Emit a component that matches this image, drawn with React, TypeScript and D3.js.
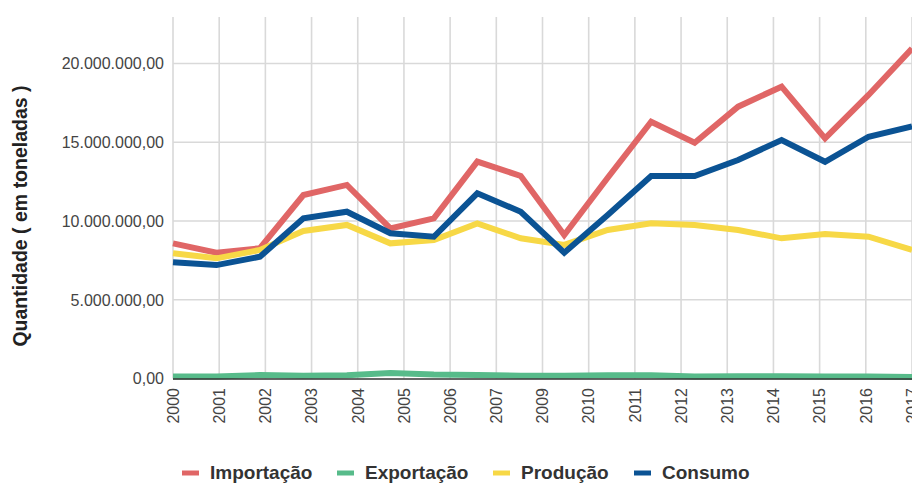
import React from "react";
import * as d3 from "d3";

const years = ["2000","2001","2002","2003","2004","2005","2006","2007","2008","2009","2010","2011","2012","2013","2014","2015","2016","2017"];
const axisLabels = ["2000","2001","2002","2003","2004","2005","2006","2007","2009","2010","2011","2012","2013","2014","2015","2016","2017"];

const importacao = [8.58, 7.99, 8.27, 11.65, 12.29, 9.53, 10.17, 13.77, 12.86, 9.11, 12.75, 16.3, 14.97, 17.26, 18.53, 15.25, 18.0, 20.95];
const exportacao = [0.12, 0.12, 0.22, 0.18, 0.2, 0.35, 0.25, 0.22, 0.18, 0.18, 0.2, 0.2, 0.12, 0.15, 0.15, 0.12, 0.12, 0.1];
const producao = [7.95, 7.63, 8.16, 9.37, 9.75, 8.58, 8.79, 9.85, 8.9, 8.48, 9.43, 9.85, 9.75, 9.43, 8.9, 9.17, 9.0, 8.16];
const consumo = [7.38, 7.2, 7.73, 10.17, 10.59, 9.22, 9.0, 11.76, 10.59, 7.99, 10.38, 12.86, 12.86, 13.87, 15.14, 13.76, 15.35, 16.0];

const yTicks = [0, 5e6, 10e6, 15e6, 20e6];

const series = [
  { name: "Importação", values: importacao, color: "#e06666" },
  { name: "Exportação", values: exportacao, color: "#57bb8a" },
  { name: "Produção", values: producao, color: "#f7d846" },
  { name: "Consumo", values: consumo, color: "#0b5394" },
];

const FONT = "Arial, 'Liberation Sans', sans-serif";

export default function App() {
  const W = 912, H = 483;
  const left = 173, right = 912, top = 17;
  const x = d3.scalePoint<string>().domain(years).range([left, right]);
  const xl = d3.scalePoint<string>().domain(axisLabels).range([left, right]);
  const y = d3.scaleLinear().domain([0, 20e6]).range([378.5, 63.5]);
  const loc = d3.formatLocale({ decimal: ",", thousands: ".", grouping: [3], currency: ["", ""] });
  const fmt = loc.format(",.2f");

  const line = d3
    .line<number>()
    .x((_, i) => x(years[i]) as number)
    .y((d) => y(d * 1e6));

  // legend layout
  const legendWidths = [104, 105, 90, 88];
  let lx = 182;
  const legendItems = series.map((s, i) => {
    const item = { ...s, x: lx };
    lx += 17 + 11 + legendWidths[i] + 23;
    return item;
  });

  return (
    <svg
      width={W}
      height={H}
      style={{ position: "absolute", left: 0, top: 0, background: "#fff" }}
      fontFamily={FONT}
    >
      <rect width={W} height={H} fill="#fff" />
      {/* vertical gridlines */}
      {axisLabels.map((l) => (
        <line key={l} x1={xl(l)} x2={xl(l)} y1={top} y2={y(0)} stroke="#d9d9d9" strokeWidth={1.6} />
      ))}
      {/* horizontal gridlines */}
      {yTicks.slice(1).map((t) => (
        <line key={t} x1={left} x2={right} y1={y(t)} y2={y(t)} stroke="#d9d9d9" strokeWidth={1.6} />
      ))}
      {/* y tick labels */}
      {yTicks.map((t) => (
        <text key={t} x={164} y={y(t)} dy="0.36em" textAnchor="end" fontSize={16} fill="#444">
          {fmt(t)}
        </text>
      ))}
      {/* x tick labels */}
      {axisLabels.map((l) => (
        <text
          key={l}
          transform={`translate(${xl(l)},388) rotate(-90)`}
          dy="0.36em"
          textAnchor="end"
          fontSize={16}
          fill="#444"
        >
          {l}
        </text>
      ))}
      {/* y axis title */}
      <text
        transform={`translate(20,216) rotate(-90)`}
        dy="0.36em"
        textAnchor="middle"
        fontSize={19.5}
        fontWeight="bold"
        fill="#222"
      >
        Quantidade ( em toneladas )
      </text>
      {/* lines */}
      {series.map((s) => (
        <path key={s.name} d={line(s.values) || ""} fill="none" stroke={s.color} strokeWidth={6} />
      ))}
      {/* baseline */}
      <line x1={left} x2={right} y1={y(0) + 0.5} y2={y(0) + 0.5} stroke="#333" strokeWidth={1.5} />
      {/* legend */}
      {legendItems.map((it) => (
        <g key={it.name}>
          <line x1={it.x} x2={it.x + 17} y1={473} y2={473} stroke={it.color} strokeWidth={5} />
          <text x={it.x + 28} y={479} fontSize={19} fontWeight="bold" fill="#333">
            {it.name}
          </text>
        </g>
      ))}
    </svg>
  );
}
